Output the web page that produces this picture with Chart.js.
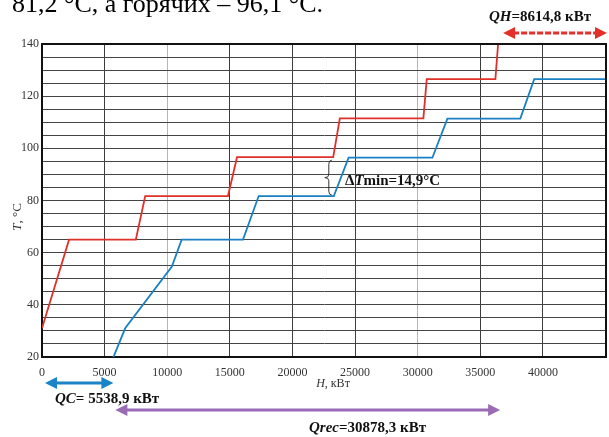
<!DOCTYPE html>
<html>
<head>
<meta charset="utf-8">
<script src="https://cdn.jsdelivr.net/npm/chart.js@4/dist/chart.umd.min.js"></script>
<style>
  body { margin: 0; background: #fff; }
  canvas { display: block; }
</style>
</head>
<body>
<canvas id="chart" width="609" height="437"></canvas>
<script>
// hot composite curve: enthalpy H (kW) and temperature T (°C)
const hotH = [0, 2160, 7490, 8240, 14850, 15570, 23250, 23780, 30450, 30720, 36200, 36417];
const hotT = [31, 65, 65, 81.7, 81.7, 96.6, 96.6, 111.5, 111.5, 126.5, 126.5, 140];

// cold composite curve
const coldH = [5539, 6640, 10370, 11150, 16050, 17300, 23300, 24480, 31170, 32370, 38190, 39300, 45032];
const coldT = [18, 31, 54.7, 65, 65, 81.7, 81.7, 96.4, 96.4, 111.4, 111.4, 126.5, 126.5];

const xTicks = [0, 5000, 10000, 15000, 20000, 25000, 30000, 35000, 40000, 45000];
const xLabelMax = 40000;
const lightGrid = [10000, 30000];
const yTickStep = 5;
const yLabelStep = 20;

const QC = 5538.9;
const Qrec = 30878.3;
const QH = 8614.8;
const dTmin = { h: 22900, low: 81.7, high: 96.6 };

const toPoints = (hs, ts) => hs.map((h, i) => ({ x: h, y: ts[i] }));
const serif = '"Liberation Serif", "Times New Roman", serif';

function richText(ctx, parts, x, y) {
  let cx = x;
  parts.forEach(([txt, italic]) => {
    ctx.font = (italic ? 'italic ' : '') + 'bold 15px ' + serif;
    ctx.fillText(txt, cx, y);
    cx += ctx.measureText(txt).width;
  });
}

function arrow(ctx, x1, x2, y, color, dash) {
  const head = 12, half = 6;
  ctx.save();
  ctx.strokeStyle = color;
  ctx.fillStyle = color;
  ctx.lineWidth = 3;
  if (dash) ctx.setLineDash(dash);
  ctx.beginPath();
  ctx.moveTo(x1 + head - 2, y);
  ctx.lineTo(x2 - head + 2, y);
  ctx.stroke();
  ctx.setLineDash([]);
  ctx.beginPath();
  ctx.moveTo(x1, y); ctx.lineTo(x1 + head, y - half); ctx.lineTo(x1 + head, y + half); ctx.closePath();
  ctx.fill();
  ctx.beginPath();
  ctx.moveTo(x2, y); ctx.lineTo(x2 - head, y - half); ctx.lineTo(x2 - head, y + half); ctx.closePath();
  ctx.fill();
  ctx.restore();
}

const extras = {
  id: 'extras',
  afterDraw(chart) {
    const { ctx, chartArea: a, scales: { x, y } } = chart;
    ctx.save();

    // frame top / right
    ctx.strokeStyle = '#111';
    ctx.lineWidth = 2;
    ctx.beginPath();
    ctx.moveTo(a.left, a.top); ctx.lineTo(a.right, a.top); ctx.lineTo(a.right, a.bottom);
    ctx.stroke();

    // clipped text line from the page above
    ctx.fillStyle = '#000';
    ctx.font = '26px ' + serif;
    ctx.textBaseline = 'alphabetic';
    ctx.fillText('81,2 °C, а горячих – 96,1 °C.', 12, 12);

    // axis titles
    ctx.fillStyle = '#333';
    ctx.font = 'italic 12px ' + serif;
    const hw = ctx.measureText('H').width;
    ctx.font = '12px ' + serif;
    const rw = ctx.measureText(', кВт').width;
    let tx = 333 - (hw + rw) / 2;
    ctx.font = 'italic 12px ' + serif;
    ctx.fillText('H', tx, 387);
    ctx.font = '12px ' + serif;
    ctx.fillText(', кВт', tx + hw, 387);

    ctx.save();
    ctx.translate(21, 217);
    ctx.rotate(-Math.PI / 2);
    ctx.font = 'italic 13px ' + serif;
    const tw = ctx.measureText('T').width;
    ctx.font = '13px ' + serif;
    const cw = ctx.measureText(', °C').width;
    ctx.font = 'italic 13px ' + serif;
    ctx.fillText('T', -(tw + cw) / 2, 0);
    ctx.font = '13px ' + serif;
    ctx.fillText(', °C', -(tw + cw) / 2 + tw, 0);
    ctx.restore();

    // energy arrows
    const x0 = x.getPixelForValue(0);
    const xc = x.getPixelForValue(QC);
    const xr = x.getPixelForValue(QC + Qrec);
    const xe = x.getPixelForValue(QC + Qrec + QH);
    arrow(ctx, xr + 5, xe + 1, 33, '#e3302b', [6, 2]);
    arrow(ctx, x0 + 3, xc + 2, 383, '#1b84c6');
    arrow(ctx, xc + 4, xr + 2, 410, '#9a6cb6');

    ctx.fillStyle = '#111';
    richText(ctx, [['QH', true], ['=8614,8 кВт', false]], 489, 21);
    richText(ctx, [['QC', true], ['= 5538,9 кВт', false]], 55, 403);
    richText(ctx, [['Qrec', true], ['=30878,3 кВт', false]], 309, 432);

    // minimum temperature difference brace
    const bx = x.getPixelForValue(dTmin.h);
    const y1 = y.getPixelForValue(dTmin.high) + 3;
    const y2 = y.getPixelForValue(dTmin.low) - 1;
    const ym = (y1 + y2) / 2;
    ctx.strokeStyle = '#333';
    ctx.lineWidth = 1;
    ctx.beginPath();
    ctx.moveTo(bx + 3, y1);
    ctx.quadraticCurveTo(bx, y1, bx, y1 + 4);
    ctx.lineTo(bx, ym - 3);
    ctx.quadraticCurveTo(bx, ym, bx - 4, ym);
    ctx.quadraticCurveTo(bx, ym, bx, ym + 3);
    ctx.lineTo(bx, y2 - 4);
    ctx.quadraticCurveTo(bx, y2, bx + 3, y2);
    ctx.stroke();
    richText(ctx, [['Δ', false], ['T', true], ['min=14,9°C', false]], 345, 185);

    ctx.restore();
  }
};

new Chart(document.getElementById('chart'), {
  type: 'scatter',
  data: {
    datasets: [
      {
        data: toPoints(hotH, hotT),
        showLine: true,
        borderColor: '#e0302a',
        borderWidth: 1.8,
        pointRadius: 0,
        tension: 0
      },
      {
        data: toPoints(coldH, coldT),
        showLine: true,
        borderColor: '#1a80c4',
        borderWidth: 1.8,
        pointRadius: 0,
        tension: 0
      }
    ]
  },
  options: {
    responsive: false,
    animation: false,
    layout: { padding: { top: 44, right: 3, left: 0, bottom: 0 } },
    plugins: { legend: { display: false }, tooltip: { enabled: false } },
    scales: {
      x: {
        type: 'linear',
        min: 0,
        max: QC + Qrec + QH,
        afterBuildTicks: s => { s.ticks = xTicks.map(v => ({ value: v })); },
        afterFit: s => { s.height = 80; s.paddingRight = 0; s.paddingLeft = 0; },
        border: { color: '#111', width: 2 },
        grid: {
          drawTicks: false,
          lineWidth: 1,
          color: c => (c.tick && lightGrid.includes(c.tick.value)) ? '#b5b5b5' : '#3c3c3c'
        },
        ticks: {
          autoSkip: false,
          maxRotation: 0,
          padding: 9,
          color: '#333',
          font: { family: serif, size: 12 },
          callback: v => v <= xLabelMax ? v : ''
        }
      },
      y: {
        min: 20,
        max: 140,
        afterFit: s => { s.width = 42; },
        border: { color: '#111', width: 2 },
        grid: { drawTicks: false, color: '#444', lineWidth: 1 },
        ticks: {
          stepSize: yTickStep,
          autoSkip: false,
          padding: 3,
          color: '#333',
          font: { family: serif, size: 12 },
          callback: v => v % yLabelStep === 0 ? v : ''
        }
      }
    }
  },
  plugins: [extras]
});
</script>
</body>
</html>
